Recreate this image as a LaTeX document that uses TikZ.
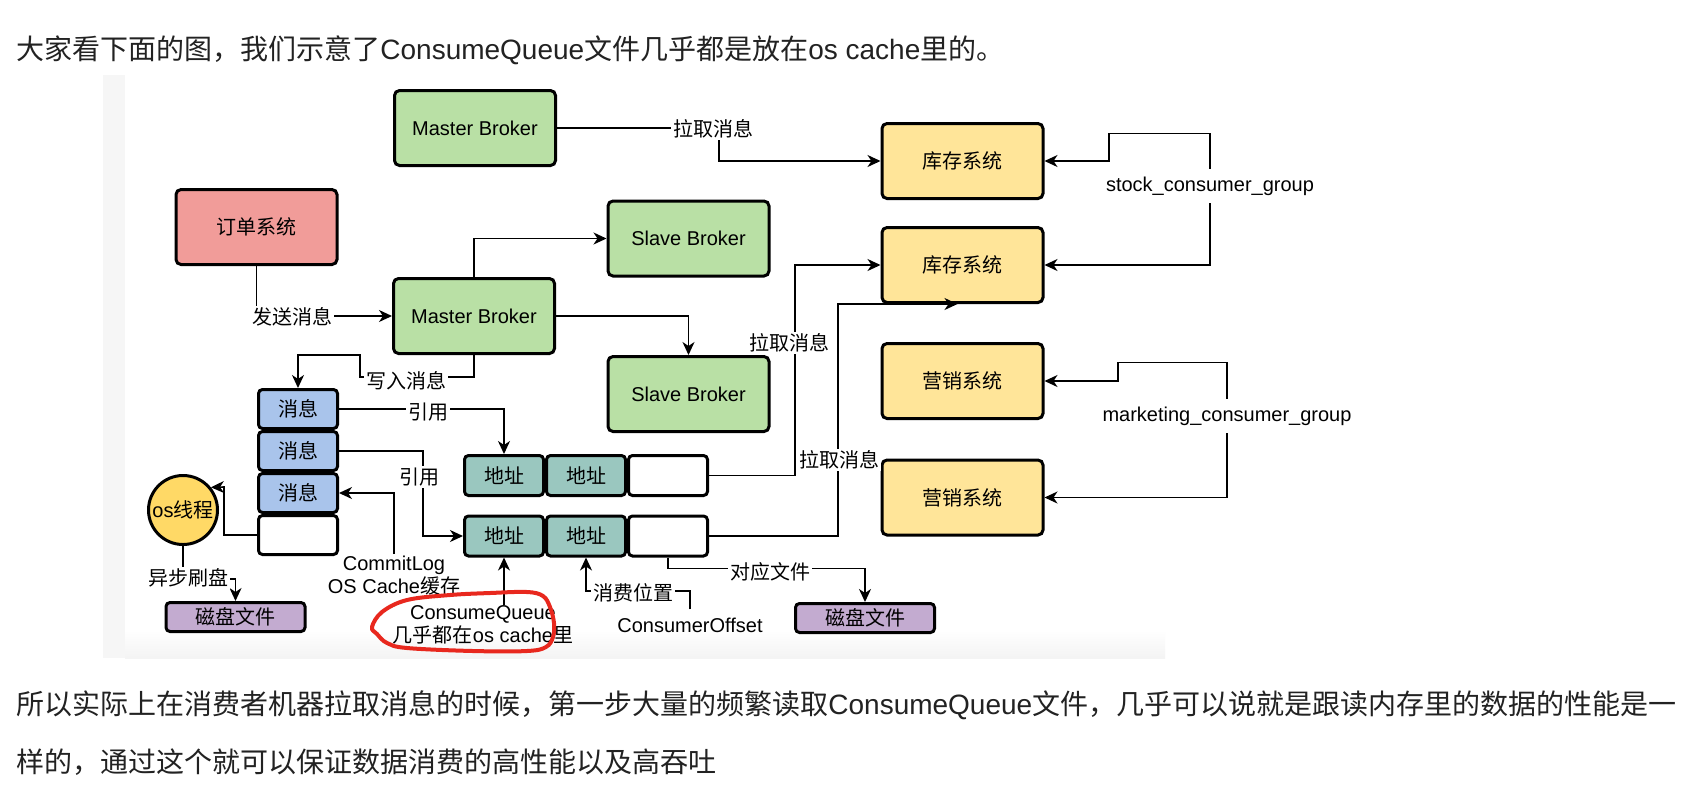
\documentclass[tikz,border=0pt]{standalone}
\usepackage{fontspec}
\setmainfont{Liberation Sans}
\newfontfamily\cjk{Noto Sans CJK SC}
\usetikzlibrary{arrows.meta,calc}
\newcommand\zh[1]{{\cjk #1}}
\newcommand\dfont{\fontsize{10}{11.5}\selectfont}
\newcommand\hfont{\fontsize{14}{16}\selectfont}
\definecolor{grn}{HTML}{B9E0A5}
\definecolor{pnk}{HTML}{F19C99}
\definecolor{ylw}{HTML}{FFE599}
\definecolor{blu}{HTML}{A9C4EB}
\definecolor{tea}{HTML}{9AC7BF}
\definecolor{pur}{HTML}{C3ABD0}
\definecolor{osy}{HTML}{FFD966}
\definecolor{redc}{HTML}{E8281E}
\definecolor{txt}{HTML}{222222}
\tikzset{
  box/.style={draw=black, line width=1.5pt, rounded corners=2.5pt, minimum width=80.5pt, minimum height=37.5pt, inner sep=0pt, font=\dfont},
  cellm/.style={draw=black, fill=blu, line width=1.5pt, rounded corners=2pt, minimum width=39.5pt, minimum height=19.5pt, inner sep=0pt, font=\dfont},
  cella/.style={draw=black, fill=tea, line width=1.5pt, rounded corners=2pt, minimum width=39.5pt, minimum height=20pt, inner sep=0pt, font=\dfont},
  disk/.style={draw=black, fill=pur, line width=1.5pt, rounded corners=2pt, minimum width=69.5pt, minimum height=14.5pt, inner sep=0pt, font=\dfont},
  lbl/.style={fill=white, inner sep=1pt, font=\dfont},
  conn/.style={line width=0.8pt, -{Stealth[length=6.5pt,width=6pt,inset=2pt]}},
}
\begin{document}
\begin{tikzpicture}[x=0.5pt,y=-0.5pt]
\useasboundingbox[fill=white] (0,0) rectangle (1686,800);
% diagram image background
\fill[gray!7] (103,75) rectangle (125,658);
\shade[top color=white, bottom color=gray!9] (125,630) rectangle (1165,658);

% heading and body text
\node[anchor=west, inner sep=0pt, font=\hfont, text=txt] (head) at (16,50) {\zh{大家看下面的图，我们示意了}ConsumeQueue\zh{文件几乎都是放在}os cache\zh{里的。}};
\node[anchor=west, inner sep=0pt, font=\hfont, text=txt] (body1) at (16,705) {\zh{所以实际上在消费者机器拉取消息的时候，第一步大量的频繁读取}ConsumeQueue\zh{文件，几乎可以说就是跟读内存里的数据的性能是一}};
\node[anchor=west, inner sep=0pt, font=\hfont, text=txt] (body2) at (16,762) {\zh{样的，通过这个就可以保证数据消费的高性能以及高吞吐}};

% boxes
\node[box, fill=grn] (mb1) at (475,128) {Master Broker};
\node[box, fill=pnk] (order) at (256.5,227) {\zh{订单系统}};
\node[box, fill=grn] (slave1) at (688.5,238.5) {Slave Broker};
\node[box, fill=grn] (mb2) at (474,316) {Master Broker};
\node[box, fill=grn] (slave2) at (688.5,394) {Slave Broker};
\node[box, fill=ylw] (stock1) at (962.5,161) {\zh{库存系统}};
\node[box, fill=ylw] (stock2) at (962.5,265) {\zh{库存系统}};
\node[box, fill=ylw] (mkt1) at (962.5,381) {\zh{营销系统}};
\node[box, fill=ylw] (mkt2) at (962.5,497.5) {\zh{营销系统}};

% commit log stack
\node[cellm] (m1) at (298,409) {\zh{消息}};
\node[cellm] (m2) at (298,451) {\zh{消息}};
\node[cellm] (m3) at (298,493) {\zh{消息}};
\node[cellm, fill=white] (m4) at (298,535) {};

% consume queues
\node[cella] (a11) at (504,475.5) {\zh{地址}};
\node[cella] (a12) at (586,475.5) {\zh{地址}};
\node[cella, fill=white] (a13) at (668,475.5) {};
\node[cella] (a21) at (504,536) {\zh{地址}};
\node[cella] (a22) at (586,536) {\zh{地址}};
\node[cella, fill=white] (a23) at (668,536) {};

% os thread and disks
\node[circle, draw=black, fill=osy, line width=1.5pt, minimum size=34.5pt, inner sep=0pt, font=\dfont] (os) at (183,510) {os\zh{线程}};
\node[disk] (disk1) at (235.5,617) {\zh{磁盘文件}};
\node[disk] (disk2) at (865,618) {\zh{磁盘文件}};

% free labels
\node[font=\dfont, align=center, inner sep=1pt] (cl) at (394,576) {CommitLog\\OS Cache\zh{缓存}};
\node[font=\dfont, align=center, inner sep=0pt] (cq) at (483,625) {ConsumeQueue\\\zh{几乎都在}os cache\zh{里}};
\node[font=\dfont, inner sep=4pt] (co) at (690,625) {ConsumerOffset};
\node[font=\dfont, minimum height=17pt, inner sep=0pt] (sg) at (1210,186) {stock\_consumer\_group};
\node[font=\dfont, minimum height=17pt, inner sep=0pt] (mg) at (1227,416) {marketing\_consumer\_group};

% connectors
\draw[conn] (mb1.east) -- ++(162,0) |- (stock1.west);
\draw[conn] (order.south) |- (mb2.west);
\draw[conn] (mb2.north) |- (slave1.west);
\draw[conn] (mb2.east) -| (slave2.north);
\draw[conn] (mb2.south) -- ++(0,22) -- ++(-114,0) -- ++(0,-22) -| (m1.north);
\draw[conn] (m1.east) -| (a11.north);
\draw[conn] (m2.east) -- ++(84,0) |- (a21.west);
\draw[conn] (cl.north) |- (m3.east);
\draw[conn] (m4.west) -- ++(-33,0) -- ++(0,-48) -- (os.39);
\draw[conn] (os.south) |- ([yshift=11pt]disk1.north) -- (disk1.north);
\draw[conn] (a21.south |- cq.north) -- (a21.south);
\draw[conn] (co.north) -- ++(0,-18) -| (a22.south);
\draw[conn] (a23.south) -- ++(0,11) -| (disk2.north);
\draw[conn] (a13.east) -- ++(86,0) |- (stock2.west);
\draw[conn] (a23.east) -- ++(129,0) |- ([xshift=-2.5pt]stock2.south);
\draw[conn] (sg.north) -- ++(0,-35) -- ++(-101,0) |- (stock1.east);
\draw[conn] (sg.south) |- (stock2.east);
\draw[conn] (mg.north) -- ++(0,-36) -- ++(-109,0) |- (mkt1.east);
\draw[conn] (mg.south) |- (mkt2.east);

% connector labels
\node[lbl] (l1) at (713,129) {\zh{拉取消息}};
\node[lbl] (l2) at (292,317) {\zh{发送消息}};
\node[lbl] (l3) at (406,381) {\zh{写入消息}};
\node[lbl] (l4) at (428,412) {\zh{引用}};
\node[lbl] (l5) at (419,477) {\zh{引用}};
\node[lbl] (l6) at (188,578) {\zh{异步刷盘}};
\node[lbl] (l7) at (633,593) {\zh{消费位置}};
\node[lbl] (l8) at (770,572) {\zh{对应文件}};
\node[lbl] (l9) at (789,343) {\zh{拉取消息}};
\node[lbl] (l10) at (839,460) {\zh{拉取消息}};

% red hand-drawn mark
\draw[redc, line width=2pt, line join=round] plot[smooth cycle, tension=0.6] coordinates {(372,627) (382,612) (407,600) (450,595) (490,593) (527,592) (543,596) (550,607) (554,623) (553,637) (546,647) (527,651) (473,651) (407,648) (387,643) (377,634)};
\end{tikzpicture}
\end{document}
